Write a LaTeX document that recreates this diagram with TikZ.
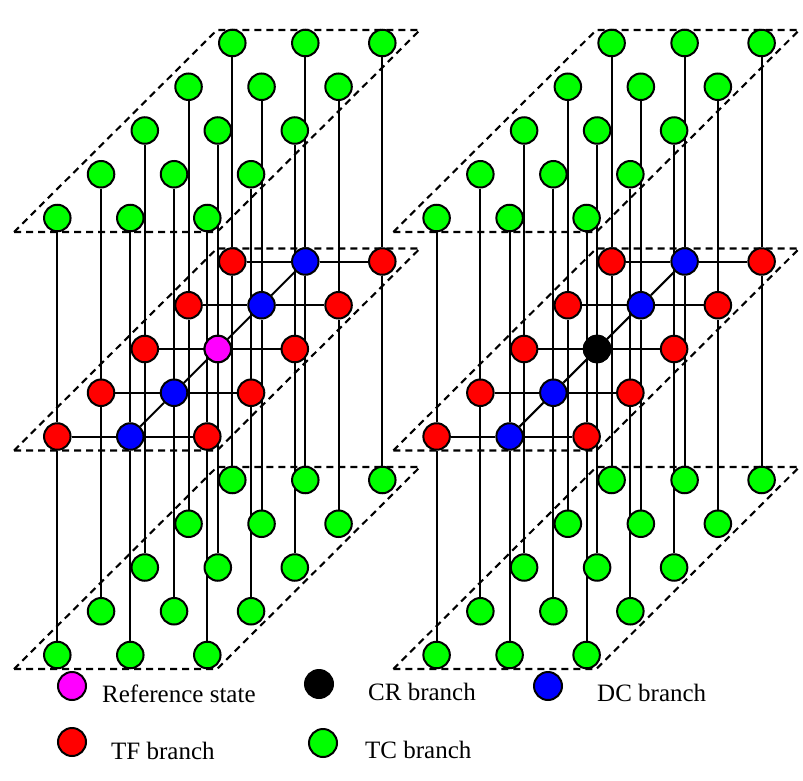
\documentclass[tikz,border=0pt]{standalone}
\usepackage{fontspec}
\setmainfont{Liberation Serif}
\usetikzlibrary{backgrounds}
\usepackage{xcolor}
\definecolor{refpink}{RGB}{255,0,255}
\definecolor{tcgreen}{RGB}{0,255,0}
\definecolor{tfred}{RGB}{255,0,0}
\definecolor{dcblue}{RGB}{0,0,255}

\begin{document}
\begin{tikzpicture}[x=1pt,y=-1pt,
		ball/.style={circle,draw,line width=2pt,minimum size=26.5pt,inner sep=0pt},
		key ball/.style={ball,minimum size=28pt},
		plane/.style={draw,line width=2.1pt,dash pattern=on 7pt off 5pt},
		link/.style={line width=2pt},
		key text/.style={font=\rmfamily\fontsize{25}{30}\selectfont,anchor=base west,inner sep=0pt}]

	\useasboundingbox (0,0) rectangle (803,781);

	% three planes of 5 x 3 states, two blocks
	\foreach \blk/\bx/\mid in {L/0/refpink,R/379.3/black}{
		\foreach \r in {0,...,4}{
			\foreach \c/\cx/\mcol in {0/0/tfred,1/73/dcblue,2/150/tfred}{
				\node[ball,fill=tcgreen] (\blk t\r\c) at ({57.3+\bx+43.75*\r+\cx},{218-43.75*\r}) {};
				\node[ball,fill=\mcol] (\blk m\r\c) at ({57.3+\bx+43.75*\r+\cx},{436.5-43.75*\r}) {};
				\node[ball,fill=tcgreen] (\blk b\r\c) at ({57.3+\bx+43.75*\r+\cx},{655-43.75*\r}) {};
			}
		}
		\node[ball,fill=\mid] (\blk m21) at (\blk m21) {};
	}

	\begin{pgfonlayer}{background}
		\foreach \blk/\bx in {L/0,R/379.3}{
			\foreach \py in {0,218.5,437}
				\draw[plane] (\bx+14,\py+232) -- (\bx+217,\py+232) -- (\bx+420,\py+30) -- (\bx+217,\py+30) -- cycle;
			\foreach \r in {0,...,4}{
				\foreach \c in {0,1,2}
					\draw[link] (\blk t\r\c) -- (\blk m\r\c) -- (\blk b\r\c);
				\draw[link] (\blk m\r0) -- (\blk m\r1) -- (\blk m\r2);
			}
			\draw[link] (\blk m01) -- (\blk m11) -- (\blk m21) -- (\blk m31) -- (\blk m41);
		}
	\end{pgfonlayer}

	% legend
	\node[key ball,fill=refpink] (refkey) at (72,686) {};
	\node[key text] (reflbl) at (102,702) {Reference state};
	\node[key ball,fill=black] (crkey) at (319,684) {};
	\node[key text] (crlbl) at (368,700) {CR branch};
	\node[key ball,fill=dcblue] (dckey) at (548,686) {};
	\node[key text] (dclbl) at (597,701) {DC branch};
	\node[key ball,fill=tfred] (tfkey) at (72,742) {};
	\node[key text] (tflbl) at (111,759) {TF branch};
	\node[key ball,fill=tcgreen] (tckey) at (323,743) {};
	\node[key text] (tclbl) at (365,758) {TC branch};
\end{tikzpicture}
\end{document}
